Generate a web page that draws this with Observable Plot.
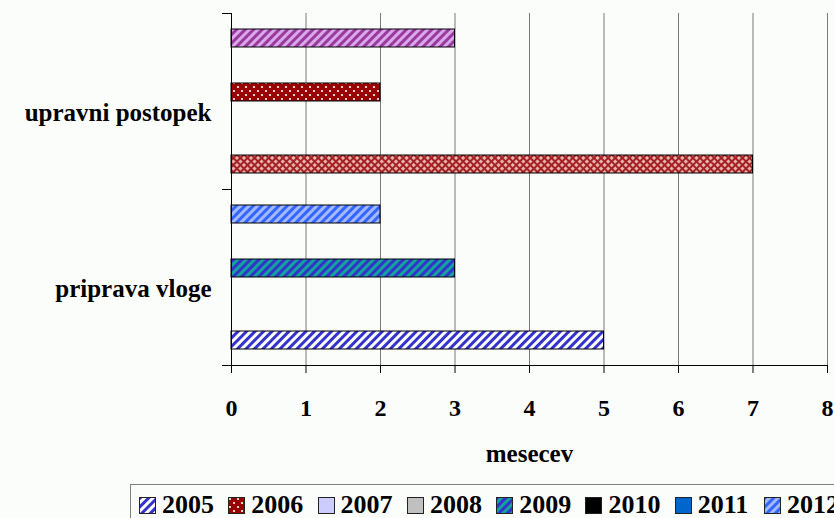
<!DOCTYPE html>
<html>
<head>
<meta charset="utf-8">
<script src="https://cdn.jsdelivr.net/npm/d3@7"></script>
<script src="https://cdn.jsdelivr.net/npm/@observablehq/plot@0.6"></script>
<style>
  html, body { margin: 0; padding: 0; background: #ffffff; }
  body { width: 834px; height: 518px; overflow: hidden; font-family: 'Liberation Serif', serif; }
  #wrap { position: relative; width: 834px; height: 518px; overflow: hidden; background: #fbfdfb; }
  #chart { position: absolute; left: 0; top: 0; }
  #legend {
    position: absolute; left: 130px; top: 484px; width: 704px; height: 60px;
    border: 1px solid #7f7f7f; border-right: none;
    box-sizing: border-box; padding: 7px 0 0 8px; white-space: nowrap; overflow: hidden;
    font-family: 'Liberation Serif', serif;
    font-weight: bold; font-size: 26px; line-height: 26px; color: #000;
  }
  .item { display: inline-block; width: 89.3px; }
  .item svg { display: inline-block; vertical-align: -1px; margin-right: 6px; }
</style>
</head>
<body>
<div id="wrap">
  <div id="chart"></div>
  <div id="legend"></div>
</div>
<script>
// ---- data ----
const categories = ["upravni postopek", "priprava vloge"];
const years = ["2005", "2006", "2007", "2008", "2009", "2010", "2011", "2012"];
const upravniPostopek = [7, null, null, null, 2, null, null, 3];
const pripravaVloge   = [5, null, null, null, 3, null, null, 2];
const xTicks = [0, 1, 2, 3, 4, 5, 6, 7, 8];
const xLabel = "mesecev";

// ---- styles ----
const legendFill = {
  "2005": "url(#p2005)", "2006": "url(#pDots)", "2007": "#ccccff", "2008": "#c0c0c0",
  "2009": "url(#p2009)", "2010": "#000000", "2011": "#0066cc", "2012": "url(#p2012)"
};
const pointFill = {
  "upravni postopek|2005": "url(#pCross)",
  "upravni postopek|2009": "url(#pDots)",
  "upravni postopek|2012": "url(#pLilac)"
};
const fillOf = d => pointFill[d.category + "|" + d.year] ?? legendFill[d.year];

const seriesByCat = {"upravni postopek": upravniPostopek, "priprava vloge": pripravaVloge};
const data = categories.flatMap(c => years.map((y, i) => ({category: c, year: y, value: seriesByCat[c][i]})))
  .filter(d => d.value != null);

const FONT = "'Liberation Serif', serif";

const plot = Plot.plot({
  width: 834,
  height: 480,
  marginLeft: 231,
  marginRight: 7,
  marginTop: 12,
  marginBottom: 115,
  style: {fontFamily: FONT, fontSize: "25px", fontWeight: "bold", color: "#000", background: "transparent", overflow: "visible"},
  x: {domain: [0, 8], ticks: xTicks, tickSize: 8, tickPadding: 25, tickFormat: d => String(d), label: xLabel, labelAnchor: "center", labelOffset: 96, labelArrow: "none"},
  y: {domain: years.slice().reverse(), paddingInner: 0, paddingOuter: 0.78, axis: null},
  fy: {domain: categories, padding: 0, axis: "left", label: null, tickSize: 0, tickPadding: 20},
  color: {type: "identity"},
  marks: [
    Plot.gridX(xTicks, {stroke: "#777777", strokeOpacity: 1}),
    Plot.barX(data, {x: "value", y: "year", fy: "category", fill: fillOf, stroke: "#000", strokeWidth: 1}),
    Plot.ruleX([0], {stroke: "#000", strokeWidth: 1})
  ]
});
document.getElementById("chart").appendChild(plot);

const svg = d3.select(plot);

// fill patterns, defined inside the plot's own svg
const defs = svg.insert("defs", ":first-child");
function stripes(id, bg, fg) {
  const p = defs.append("pattern").attr("id", id).attr("width", 6).attr("height", 6)
    .attr("patternUnits", "userSpaceOnUse").attr("patternTransform", "rotate(45)");
  p.append("rect").attr("width", 6).attr("height", 6).attr("fill", bg);
  p.append("rect").attr("width", 3).attr("height", 6).attr("fill", fg);
}
stripes("p2005", "#ffffff", "#3333cc");
stripes("p2009", "#12a39b", "#3333cc");
stripes("p2012", "#a3b8ff", "#3366ff");
stripes("pLilac", "#d8a8e8", "#9a3a9e");
{
  const p = defs.append("pattern").attr("id", "pDots").attr("width", 8).attr("height", 8).attr("patternUnits", "userSpaceOnUse");
  p.append("rect").attr("width", 8).attr("height", 8).attr("fill", "#990000");
  p.append("circle").attr("cx", 2).attr("cy", 2).attr("r", 1.1).attr("fill", "#ffffff");
  p.append("circle").attr("cx", 6).attr("cy", 6).attr("r", 1.1).attr("fill", "#ffffff");
}
{
  const p = defs.append("pattern").attr("id", "pCross").attr("width", 5).attr("height", 5)
    .attr("patternUnits", "userSpaceOnUse").attr("patternTransform", "rotate(45)");
  p.append("rect").attr("width", 5).attr("height", 5).attr("fill", "#e7b2b2");
  p.append("rect").attr("width", 2).attr("height", 5).attr("fill", "#a52222");
  p.append("rect").attr("width", 5).attr("height", 2).attr("fill", "#a52222");
}

// tick labels slightly smaller than the other texts
svg.selectAll("g[aria-label='x-axis tick label'] text").style("font-size", "24px");
svg.selectAll("g[aria-label='fy-axis tick label'] text").attr("dy", "0.45em");

// category boundary ticks and bottom axis line, from the plot's own scales
const sx = plot.scale("x"), sfy = plot.scale("fy");
if (sx && sx.apply && sfy && sfy.apply) {
  const x0 = sx.apply(0), x1 = sx.apply(8);
  const bounds = [sfy.apply(categories[0])].concat(categories.map(c => sfy.apply(c) + sfy.bandwidth));
  const g = svg.append("g").attr("stroke", "#000").attr("stroke-width", 1);
  bounds.forEach(b => g.append("line").attr("x1", x0 - 9).attr("x2", x0).attr("y1", b + 0.5).attr("y2", b + 0.5));
  const yb = bounds[bounds.length - 1] + 0.5;
  g.append("line").attr("x1", x0).attr("x2", x1).attr("y1", yb).attr("y2", yb);
}

// legend
const legend = d3.select("#legend");
years.forEach(y => {
  const it = legend.append("span").attr("class", "item");
  const s = it.append("svg").attr("width", 17).attr("height", 17);
  s.append("rect").attr("x", 0.5).attr("y", 0.5).attr("width", 16).attr("height", 16)
    .attr("fill", legendFill[y]).attr("stroke", "#222").attr("stroke-width", 1);
  it.append("span").text(y);
});
</script>
</body>
</html>
